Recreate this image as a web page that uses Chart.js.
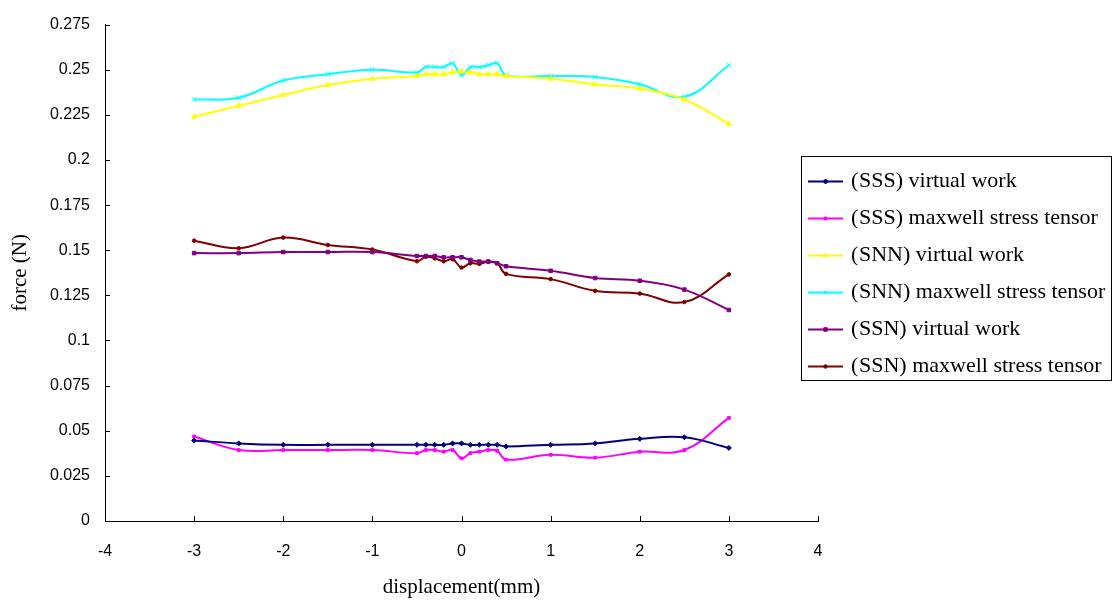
<!DOCTYPE html>
<html>
<head>
<meta charset="utf-8">
<script src="https://cdn.jsdelivr.net/npm/chart.js@4/dist/chart.umd.min.js"></script>
<style>
  html, body { margin: 0; padding: 0; background: #fff; }
</style>
</head>
<body>
<canvas id="chart" width="1115" height="600"></canvas>
<script>
// displacement (mm) at which each force was computed
const displacement = [-3, -2.5, -2, -1.5, -1, -0.5, -0.4, -0.3, -0.2, -0.1, 0, 0.1, 0.2, 0.3, 0.4, 0.5, 1, 1.5, 2, 2.5, 3];

// force (N) per method
const sssVirtual = [0.0446, 0.0430, 0.0422, 0.0422, 0.0422, 0.0422, 0.0422, 0.0422, 0.0422, 0.0430, 0.0430, 0.0422, 0.0422, 0.0422, 0.0422, 0.0413, 0.0422, 0.0430, 0.0455, 0.0464, 0.0405];
const sssMaxwell = [0.0468, 0.0393, 0.0393, 0.0393, 0.0393, 0.0376, 0.0393, 0.0393, 0.0384, 0.0393, 0.0347, 0.0376, 0.0384, 0.0393, 0.0389, 0.0340, 0.0367, 0.0351, 0.0384, 0.0393, 0.0571];
const snnVirtual = [0.2240, 0.2300, 0.2360, 0.2415, 0.2450, 0.2465, 0.2475, 0.2475, 0.2475, 0.2485, 0.2490, 0.2485, 0.2475, 0.2475, 0.2475, 0.2465, 0.2450, 0.2420, 0.2395, 0.2335, 0.2200];
const snnMaxwell = [0.2335, 0.2345, 0.2440, 0.2475, 0.2500, 0.2485, 0.2515, 0.2515, 0.2515, 0.2535, 0.2470, 0.2515, 0.2515, 0.2525, 0.2535, 0.2470, 0.2465, 0.2460, 0.2420, 0.2350, 0.2525];
const ssnVirtual = [0.1484, 0.1484, 0.1490, 0.1490, 0.1490, 0.1468, 0.1468, 0.1468, 0.1461, 0.1461, 0.1461, 0.1446, 0.1437, 0.1437, 0.1428, 0.1411, 0.1386, 0.1346, 0.1331, 0.1282, 0.1169];
const ssnMaxwell = [0.1553, 0.1511, 0.1570, 0.1529, 0.1504, 0.1439, 0.1464, 0.1455, 0.1439, 0.1450, 0.1404, 0.1428, 0.1424, 0.1437, 0.1428, 0.1369, 0.1340, 0.1275, 0.1260, 0.1213, 0.1366];

const seriesNames = [
  '(SSS) virtual work',
  '(SSS) maxwell stress tensor',
  '(SNN) virtual work',
  '(SNN) maxwell stress tensor',
  '(SSN) virtual work',
  '(SSN) maxwell stress tensor',
];

const xTicks = { min: -4, max: 4, step: 1 };
const yTicks = { min: 0, max: 0.275, step: 0.025 };

const serif = 'Liberation Serif, "Times New Roman", serif';
const sans = 'Liberation Sans, Arial, sans-serif';

const makeSeries = (label, values, color, pointStyle, radius) => ({
  label,
  data: values.map((v, i) => ({ x: displacement[i], y: v })),
  borderColor: color,
  backgroundColor: color,
  pointBackgroundColor: color,
  pointBorderColor: color,
  pointStyle,
  pointRadius: radius,
  pointBorderWidth: 1,
  borderWidth: 2,
  tension: 0.4,
});

const datasets = [
  makeSeries(seriesNames[0], sssVirtual, '#000080', 'rectRot', 2.5),
  makeSeries(seriesNames[1], sssMaxwell, '#ff00ff', 'rect', 2),
  makeSeries(seriesNames[2], snnVirtual, '#ffff00', 'triangle', 3),
  makeSeries(seriesNames[3], snnMaxwell, '#00ffff', 'crossRot', 3.5),
  makeSeries(seriesNames[4], ssnVirtual, '#800080', 'rect', 2.5),
  makeSeries(seriesNames[5], ssnMaxwell, '#800000', 'circle', 1.8),
];

// tick marks pointing into the plot area
const inwardTicks = {
  id: 'inwardTicks',
  afterDatasetsDraw(chart) {
    const { ctx, chartArea: a, scales: { x, y } } = chart;
    ctx.save();
    ctx.strokeStyle = '#000';
    ctx.lineWidth = 1;
    ctx.beginPath();
    x.ticks.forEach((t) => {
      const px = Math.round(x.getPixelForValue(t.value)) + 0.5;
      ctx.moveTo(px, a.bottom);
      ctx.lineTo(px, a.bottom - 5);
    });
    y.ticks.forEach((t) => {
      const py = Math.round(y.getPixelForValue(t.value)) + 0.5;
      ctx.moveTo(a.left, py);
      ctx.lineTo(a.left + 5, py);
    });
    ctx.stroke();
    ctx.restore();
  },
};

// boxed legend to the right of the plot, line sample with marker
const boxedLegend = {
  id: 'boxedLegend',
  afterDraw(chart) {
    const { ctx } = chart;
    const box = { left: 801, top: 156, width: 310, height: 224 };
    ctx.save();
    ctx.strokeStyle = '#000';
    ctx.lineWidth = 1;
    ctx.strokeRect(box.left + 0.5, box.top + 0.5, box.width, box.height);
    ctx.font = '22px ' + serif;
    ctx.textBaseline = 'middle';
    chart.data.datasets.forEach((ds, i) => {
      const yy = 181.5 + i * 37;
      ctx.strokeStyle = ds.borderColor;
      ctx.lineWidth = 2;
      ctx.beginPath();
      ctx.moveTo(808, yy);
      ctx.lineTo(843, yy);
      ctx.stroke();
      ctx.fillStyle = ds.borderColor;
      ctx.lineWidth = 1;
      Chart.helpers.drawPoint(ctx, { pointStyle: ds.pointStyle, radius: Math.min(ds.pointRadius, 2.5), rotation: 0, borderWidth: 1 }, 825.5, yy);
      // opening bracket sits a little apart from the name
      ctx.fillStyle = '#000';
      ctx.fillText('(', 851, yy);
      ctx.fillText(ds.label.slice(1), 859, yy);
    });
    ctx.restore();
  },
};

new Chart(document.getElementById('chart').getContext('2d'), {
  type: 'line',
  data: { datasets },
  plugins: [inwardTicks, boxedLegend],
  options: {
    responsive: false,
    animation: false,
    layout: { padding: { top: 17, right: 297, left: 0, bottom: 0 } },
    plugins: {
      legend: { display: false },
      tooltip: { enabled: false },
    },
    scales: {
      x: {
        type: 'linear',
        min: xTicks.min,
        max: xTicks.max,
        afterFit: (s) => { s.height = 79; },
        grid: { display: false, drawTicks: false },
        border: { display: true, color: '#000', width: 1 },
        ticks: {
          stepSize: xTicks.step,
          padding: 21,
          color: '#000',
          font: { family: sans, size: 16 },
          maxRotation: 0,
        },
        title: {
          display: true,
          text: 'displacement(mm)',
          color: '#000',
          font: { family: serif, size: 21 },
          padding: { top: 10, bottom: 0 },
        },
      },
      y: {
        type: 'linear',
        min: yTicks.min,
        max: yTicks.max,
        afterFit: (s) => { s.width = 105; },
        grid: { display: false, drawTicks: false },
        border: { display: true, color: '#000', width: 1 },
        ticks: {
          stepSize: yTicks.step,
          padding: 15,
          color: '#000',
          font: { family: sans, size: 16 },
          callback: (v) => String(Number(v.toFixed(3))),
        },
        title: {
          display: true,
          text: 'force (N)',
          color: '#000',
          font: { family: serif, size: 21 },
          padding: { top: 8, bottom: 0 },
        },
      },
    },
  },
});
</script>
</body>
</html>
